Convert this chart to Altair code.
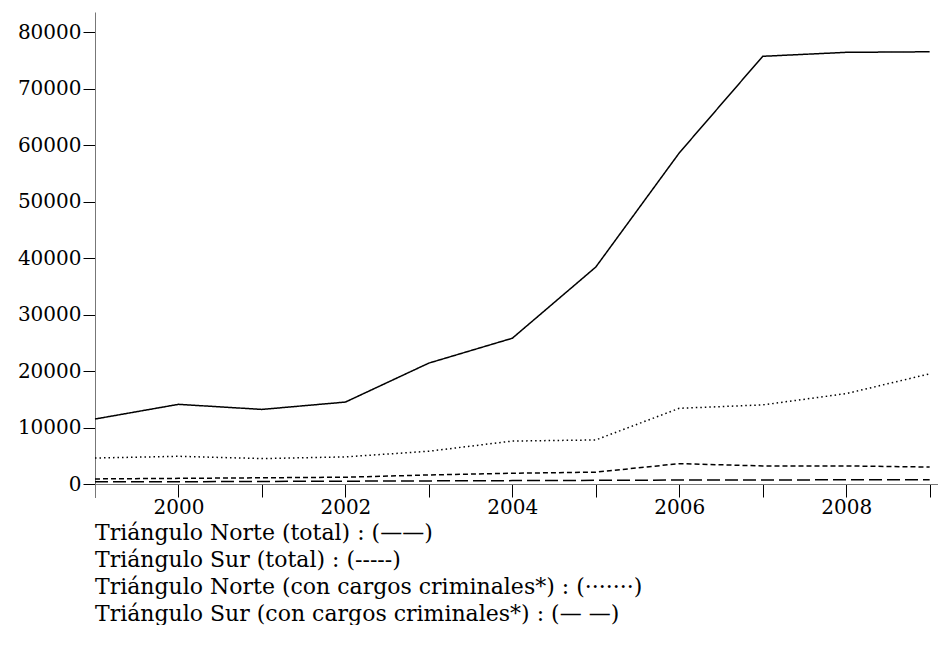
import altair as alt
import pandas as pd

years = [1999, 2000, 2001, 2002, 2003, 2004, 2005, 2006, 2007, 2008, 2009]
norte_total = [11500, 14100, 13200, 14500, 21400, 25800, 38400, 58600, 75700, 76400, 76500]
sur_total = [900, 1000, 1100, 1200, 1600, 1900, 2100, 3600, 3200, 3200, 3000]
norte_crim = [4600, 4900, 4500, 4800, 5800, 7600, 7800, 13400, 14000, 16000, 19500]
sur_crim = [400, 400, 450, 500, 550, 600, 650, 700, 700, 750, 750]

series_names = ["Norte total", "Sur total", "Norte crim", "Sur crim"]
series_vals = [norte_total, sur_total, norte_crim, sur_crim]
dashes = [[1, 0], [5, 3], [1.5, 3], [13, 5]]

legend_lines = [
    "Triángulo Norte (total) : (——)",
    "Triángulo Sur (total) : (-----)",
    "Triángulo Norte (con cargos criminales*) : (·······)",
    "Triángulo Sur (con cargos criminales*) : (— —)",
]

rows = []
for name, vals in zip(series_names, series_vals):
    for y, v in zip(years, vals):
        rows.append({"year": y, "value": v, "series": name})
df = pd.DataFrame(rows)

FONT = "DejaVu Serif"

chart = alt.Chart(df).mark_line(color="black", strokeWidth=1.5).encode(
    x=alt.X("year:Q",
            scale=alt.Scale(domain=[1999, 2009.1], nice=False, zero=False),
            axis=alt.Axis(title=None, values=years, grid=False,
                          labelExpr="datum.value % 2 == 0 ? datum.value : ''",
                          tickSize=13, offset=-13, labelFont=FONT, labelFontSize=20,
                          labelColor="black", tickColor="black", domainColor="#777",
                          labelPadding=0, labelFlush=False)),
    y=alt.Y("value:Q",
            scale=alt.Scale(domain=[-2300, 83540], nice=False, zero=False),
            axis=alt.Axis(title=None, values=list(range(0, 80001, 10000)), grid=False,
                          format="d", tickSize=12, labelFont=FONT, labelFontSize=20,
                          labelColor="black", tickColor="black", domainColor="#777",
                          labelPadding=2)),
    strokeDash=alt.StrokeDash("series:N",
                              scale=alt.Scale(domain=series_names, range=dashes),
                              legend=None),
).properties(
    width=843,
    height=485,
    padding={"left": 9, "right": 0, "top": 4, "bottom": 0},
    title=alt.TitleParams(text=legend_lines, orient="bottom", anchor="start",
                          frame="group", font=FONT, fontSize=22, fontWeight="normal",
                          lineHeight=27, offset=6, color="black"),
).configure_view(stroke=None)

chart.save("out.html", embed_options={"renderer": "svg", "actions": False})
